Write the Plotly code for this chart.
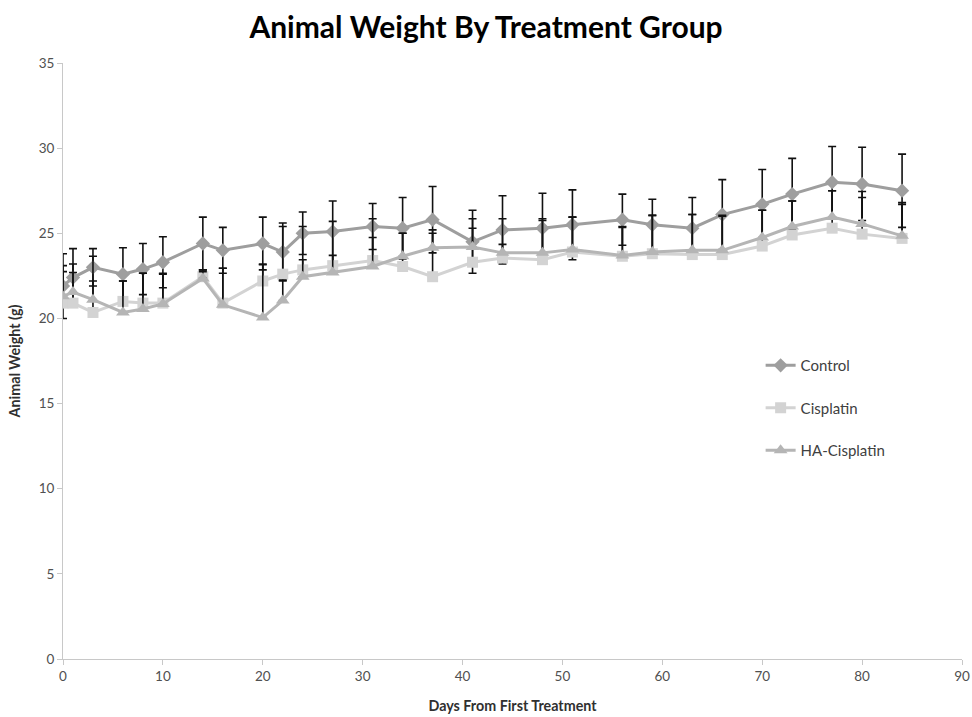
import plotly.graph_objects as go

days = [0, 1, 3, 6, 8, 10, 14, 16, 20, 22, 24, 27, 31, 34, 37, 41, 44, 48, 51, 56, 59, 63, 66, 70, 73, 77, 80, 84]

control = [21.9, 22.4, 23.0, 22.6, 22.9, 23.3, 24.4, 24.0, 24.4, 23.9, 25.0, 25.1, 25.4, 25.3, 25.8, 24.5,
           25.2, 25.3, 25.5, 25.8, 25.5, 25.3, 26.1, 26.7, 27.3, 28.0, 27.9, 27.5]
control_err = [1.9, 1.7, 1.1, 1.55, 1.5, 1.5, 1.55, 1.35, 1.55, 1.7, 1.25, 1.8, 1.35, 1.8, 1.95, 1.85,
               2.0, 2.05, 2.05, 1.5, 1.5, 1.8, 2.05, 2.05, 2.1, 2.1, 2.15, 2.15]

cisplatin = [20.9, 20.9, 20.35, 21.0, 20.9, 20.9, 22.45, 20.9, 22.2, 22.6, 22.85, 23.1, 23.4, 23.05, 22.45, 23.3,
             23.55, 23.45, 23.9, 23.65, 23.8, 23.75, 23.75, 24.25, 24.9, 25.3, 24.95, 24.7]
cisplatin_err = [2.2, 2.3, 3.3, 1.2, 1.75, 1.75, 0.4, 2.05, 1.0, 2.8, 2.55, 2.6, 2.45, 1.95, 2.75, 2.55,
                 2.3, 2.4, 2.05, 1.75, 2.25, 2.35, 2.3, 2.1, 2.0, 2.2, 2.5, 2.1]

ha_cisplatin = [21.3, 21.55, 21.1, 20.35, 20.55, 20.85, 22.35, 20.8, 20.05, 21.05, 22.45, 22.7, 23.05, 23.65, 24.15, 24.2,
                23.85, 23.85, 24.05, 23.7, 23.9, 24.0, 24.0, 24.75, 25.4, 25.95, 25.55, 24.85]
ha_cisplatin_err = [1.45, 1.15, 1.1, 1.85, 2.1, 1.75, 0.4, 2.15, 3.1, 1.2, 1.0, 1.0, 1.7, 1.35, 0.85, 1.1,
                    0.5, 1.9, 1.9, 1.65, 2.15, 2.1, 2.0, 1.6, 1.5, 1.55, 1.55, 1.85]

FONT = "Lato"

fig = go.Figure()

fig.add_trace(go.Scatter(
    x=days, y=control, name="Control", mode="lines+markers",
    line=dict(color="#9e9e9e", width=3),
    marker=dict(symbol="diamond", size=11, color="#9e9e9e"),
    error_y=dict(type="data", array=control_err, symmetric=True, color="#111111", thickness=1.6, width=4),
    legendgroup="a",
))
fig.add_trace(go.Scatter(
    x=days, y=cisplatin, name="Cisplatin", mode="lines+markers",
    line=dict(color="#d3d3d3", width=3),
    marker=dict(symbol="square", size=11, color="#d3d3d3"),
    error_y=dict(type="data", array=cisplatin_err, arrayminus=[0] * len(days), symmetric=False,
                 color="#111111", thickness=1.6, width=4),
    legendgroup="b",
))
fig.add_trace(go.Scatter(
    x=days, y=ha_cisplatin, name="HA-Cisplatin", mode="lines+markers",
    line=dict(color="#b5b5b5", width=3),
    marker=dict(symbol="triangle-up", size=12, color="#b5b5b5"),
    error_y=dict(type="data", array=ha_cisplatin_err, arrayminus=[0] * len(days), symmetric=False,
                 color="#111111", thickness=1.6, width=4),
    legendgroup="c",
))

fig.update_layout(
    width=972, height=717,
    margin=dict(l=63, r=10, t=63, b=58, autoexpand=False),
    paper_bgcolor="white", plot_bgcolor="white",
    font=dict(family=FONT, color="#404040", size=13),
    title=dict(text="<b>Animal Weight By Treatment Group</b>", x=0.5, xanchor="center",
               y=0.962, yanchor="middle", font=dict(family=FONT, size=30, color="#000000")),
    xaxis=dict(range=[0, 90], dtick=10, showgrid=False, zeroline=False, automargin=False,
               showline=True, linecolor="#c8c8c8", linewidth=1,
               ticks="outside", ticklen=5, tickcolor="#c8c8c8",
               tickfont=dict(size=13.5, color="#505050"),
               title=dict(text="<b>Days From First Treatment</b>", font=dict(size=14.3, color="#303030"), standoff=17)),
    yaxis=dict(range=[0, 35], dtick=5, showgrid=False, zeroline=False, automargin=False,
               showline=True, linecolor="#c8c8c8", linewidth=1,
               ticks="outside", ticklen=5, tickcolor="#c8c8c8",
               tickfont=dict(size=13.5, color="#505050"),
               title=dict(text="<b>Animal Weight (g)</b>", font=dict(size=14.3, color="#303030"), standoff=14)),
    legend=dict(x=0.776, y=0.52, xanchor="left", yanchor="top", tracegroupgap=20,
                font=dict(size=15, color="#404040"), bgcolor="rgba(0,0,0,0)"),
)

fig.write_html("out.html")
